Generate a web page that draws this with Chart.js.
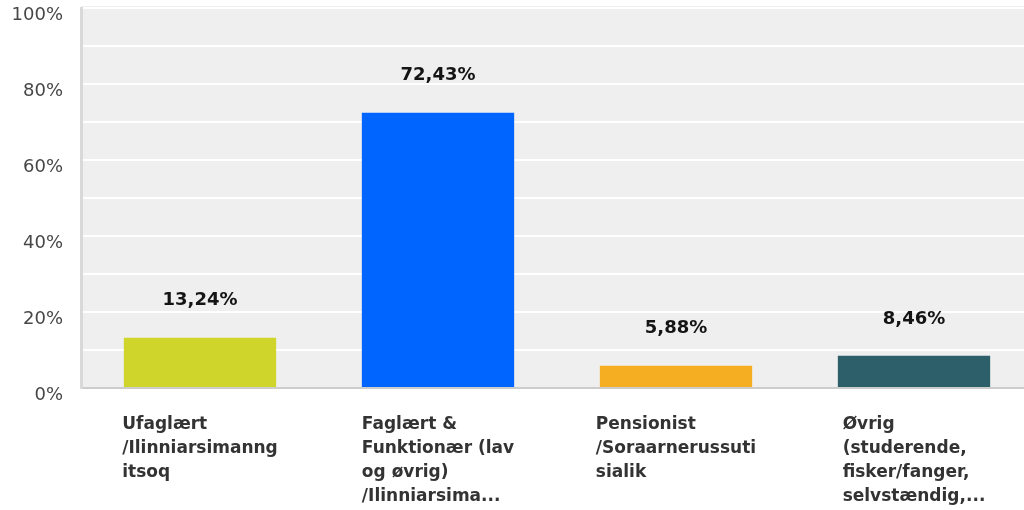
<!DOCTYPE html>
<html lang="da">
<head>
    <meta charset="UTF-8" />
    <title>Fordeling efter stillingskategori</title>
    <script src="https://cdn.jsdelivr.net/npm/chart.js"></script>
    <style>
        html, body {
            margin: 0;
            padding: 0;
            background: #ffffff;
            overflow: hidden;
        }

        #wrap {
            width: 1034px;
            height: 510px;
        }
    </style>
</head>
<body>
    <div id="wrap">
        <canvas id="shareChart"></canvas>
    </div>

    <script>
        const categories = [
            ['Ufaglært', '/Ilinniarsimanng', 'itsoq'],
            ['Faglært &', 'Funktionær (lav', 'og øvrig)', '/Ilinniarsima...'],
            ['Pensionist', '/Soraarnerussuti', 'sialik'],
            ['Øvrig', '(studerende,', 'fisker/fanger,', 'selvstændig,...']
        ];
        const shares = [13.24, 72.43, 5.88, 8.46];
        const shareLabels = ['13,24%', '72,43%', '5,88%', '8,46%'];
        const barColors = ['#cfd52a', '#0064ff', '#f5ad22', '#2d5f6b'];
        const yTicks = [0, 20, 40, 60, 80, 100];

        // grå baggrund bag plotområdet
        const plotBackground = {
            id: 'plotBackground',
            beforeDraw(chart) {
                const { ctx, chartArea: a } = chart;
                ctx.save();
                ctx.fillStyle = '#efefef';
                ctx.fillRect(a.left, a.top - 2, a.right - a.left, a.bottom - a.top + 2);
                ctx.restore();
            }
        };

        // procenttal over søjlerne
        const valueLabels = {
            id: 'valueLabels',
            afterDatasetsDraw(chart) {
                const { ctx } = chart;
                const meta = chart.getDatasetMeta(0);
                ctx.save();
                ctx.font = 'bold 18px "DejaVu Sans"';
                ctx.fillStyle = '#141414';
                ctx.textAlign = 'center';
                ctx.textBaseline = 'middle';
                meta.data.forEach((bar, i) => {
                    ctx.fillText(shareLabels[i], bar.x, bar.y - 37);
                });
                ctx.restore();
            }
        };

        // kategorinavne: blok centreret under søjlen, linjer venstrejusteret
        const categoryLabels = {
            id: 'categoryLabels',
            afterDraw(chart) {
                const { ctx } = chart;
                const xScale = chart.scales.x;
                ctx.save();
                ctx.font = 'bold 17px "DejaVu Sans"';
                ctx.fillStyle = '#333333';
                ctx.textAlign = 'left';
                ctx.textBaseline = 'middle';
                categories.forEach((lines, i) => {
                    const center = xScale.getPixelForTick(i);
                    const widest = Math.max(...lines.map(l => ctx.measureText(l).width));
                    const left = center - widest / 2;
                    lines.forEach((line, j) => {
                        ctx.fillText(line, left, xScale.top + 37 + j * 24);
                    });
                });
                ctx.restore();
            }
        };

        const ctx = document.getElementById('shareChart').getContext('2d');

        new Chart(ctx, {
            type: 'bar',
            data: {
                labels: categories,
                datasets: [{
                    data: shares,
                    backgroundColor: barColors,
                    borderWidth: 0,
                    categoryPercentage: 1,
                    barPercentage: 0.64
                }]
            },
            options: {
                responsive: true,
                maintainAspectRatio: false,
                animation: false,
                layout: {
                    padding: { top: 8, right: 1, bottom: 0, left: 0 }
                },
                plugins: {
                    legend: { display: false },
                    tooltip: { enabled: false }
                },
                scales: {
                    x: {
                        grid: { display: false },
                        border: { color: '#cccccc', width: 2 },
                        ticks: { display: false },
                        afterFit: scale => { scale.height = 122; }
                    },
                    y: {
                        min: 0,
                        max: 100,
                        afterFit: scale => {
                            scale.width = 81;
                            scale.paddingTop = 0;
                            scale.paddingBottom = 0;
                        },
                        grid: {
                            color: '#ffffff',
                            lineWidth: 2,
                            drawTicks: false
                        },
                        border: { color: '#d9d9d9', width: 3 },
                        ticks: {
                            stepSize: 10,
                            padding: 18,
                            labelOffset: 7,
                            color: '#474747',
                            font: { family: '"DejaVu Sans"', size: 18 },
                            callback: v => yTicks.includes(v) ? v + '%' : ''
                        }
                    }
                }
            },
            plugins: [plotBackground, valueLabels, categoryLabels]
        });
    </script>
</body>
</html>
